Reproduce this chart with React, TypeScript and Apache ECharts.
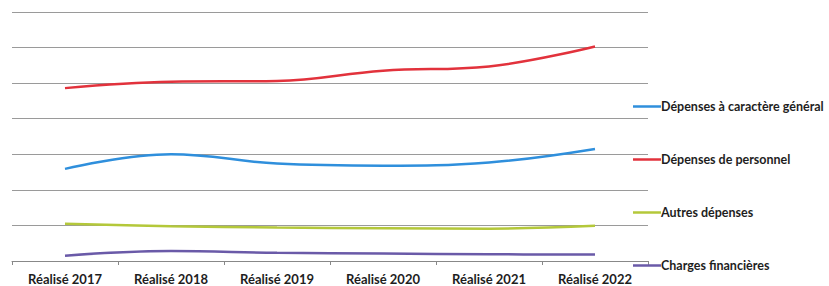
import React, { useEffect, useRef } from "react";
import * as echarts from "echarts";

const categories = ["Réalisé 2017", "Réalisé 2018", "Réalisé 2019", "Réalisé 2020", "Réalisé 2021", "Réalisé 2022"];
const seriesNames = ["Dépenses à caractère général", "Dépenses de personnel", "Autres dépenses", "Charges financières"];
const depensesGenerales = [2.59, 3.0, 2.74, 2.68, 2.77, 3.15];
const depensesPersonnel = [4.86, 5.04, 5.06, 5.35, 5.47, 6.03];
const autresDepenses = [1.05, 0.98, 0.94, 0.92, 0.91, 0.99];
const chargesFinancieres = [0.15, 0.28, 0.23, 0.21, 0.19, 0.18];
const colors = ["#2f8fdc", "#e2323c", "#b4c83a", "#6a5aa8"];

export default function App() {
  const ref = useRef<HTMLDivElement>(null);
  useEffect(() => {
    if (!ref.current) return;
    const chart = echarts.init(ref.current, null, { renderer: "svg" });
    const data = [depensesGenerales, depensesPersonnel, autresDepenses, chargesFinancieres];
    chart.setOption({
      animation: false,
      backgroundColor: "#ffffff",
      grid: { left: 12, right: 181, top: 12, bottom: 25, containLabel: false },
      legend: {
        orient: "vertical",
        left: 628,
        top: 95,
        itemGap: 40,
        icon: "rect",
        itemWidth: 28,
        itemHeight: 2.5,
        data: seriesNames,
        textStyle: { fontFamily: "Lato", fontSize: 12.5, fontWeight: "bold", color: "#1e1e1e", padding: [0, 0, 0, -5] },
      },
      xAxis: {
        type: "category",
        data: categories,
        boundaryGap: true,
        axisLine: { lineStyle: { color: "#888888", width: 1 } },
        axisTick: { show: true, length: 4, lineStyle: { color: "#888888" } },
        axisLabel: { fontFamily: "Lato", fontSize: 13, fontWeight: "bold", color: "#1e1e1e", margin: 11 },
      },
      yAxis: {
        type: "value",
        min: 0,
        max: 7,
        interval: 1,
        axisLabel: { show: false },
        axisLine: { show: false },
        axisTick: { show: false },
        splitLine: { lineStyle: { color: "#9a9a9a", width: 1 } },
      },
      series: seriesNames.map((name, i) => ({
        name,
        type: "line",
        data: data[i],
        smooth: 0.4,
        symbol: "none",
        color: colors[i],
        lineStyle: { width: 2.5, color: colors[i] },
      })),
    });
    return () => chart.dispose();
  }, []);
  return <div ref={ref} style={{ position: "fixed", left: 0, top: 0, width: 829, height: 286 }} />;
}
